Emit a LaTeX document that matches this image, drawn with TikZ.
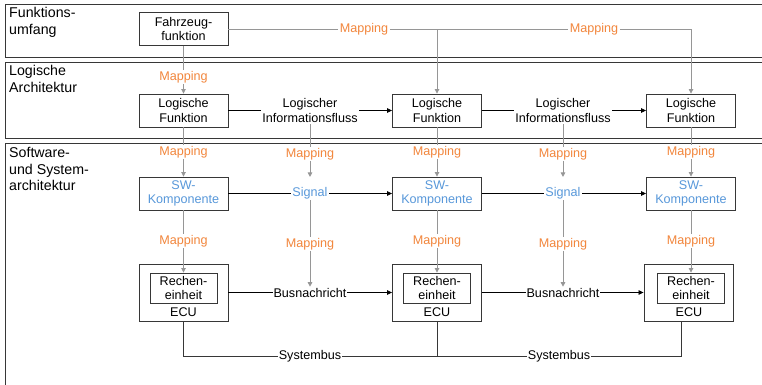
\documentclass[tikz,border=0pt]{standalone}
\usepackage{fontspec}
\setmainfont{Liberation Sans}
\usetikzlibrary{arrows.meta}
\definecolor{mapor}{RGB}{242,134,60}
\definecolor{swblue}{RGB}{88,152,218}
\definecolor{mapgray}{RGB}{150,150,150}
\definecolor{frame}{RGB}{55,55,55}
\begin{document}
\begin{tikzpicture}[x=1pt,y=-1pt,
  font=\fontsize{12.6}{14.6}\selectfont,
  box/.style={draw=frame, line width=0.9pt, minimum width=89pt, minimum height=33pt, align=center, inner sep=0pt, fill=white},
  ecubox/.style={draw=frame, line width=0.9pt, minimum width=89pt, minimum height=57pt, fill=white},
  inbox/.style={draw=frame, line width=0.9pt, minimum width=67pt, minimum height=30pt, align=center, inner sep=0pt},
  band/.style={draw=frame, line width=1pt},
  bandlab/.style={anchor=north west, align=left, inner sep=0pt, font=\fontsize{14.2}{16.7}\selectfont},
  maplab/.style={text=mapor, fill=white, inner sep=1.5pt},
  maparrow/.style={draw=mapgray, line width=0.8pt, -{Triangle[length=4.5pt,width=4.5pt]}},
  mapline/.style={draw=mapgray, line width=0.8pt},
  flow/.style={draw=black, line width=0.8pt, -{Triangle[length=5pt,width=4.5pt]}},
  flowlab/.style={fill=white, inner sep=1.5pt, align=center},
  busline/.style={draw=frame, line width=1pt},
]
\clip (0,0) rectangle (762,384);
\fill[white] (0,0) rectangle (762,384);
% bands
\draw[band] (5,4) rectangle (780,57);
\draw[band] (5,62) rectangle (780,138);
\draw[band] (5,143) rectangle (780,420);
\node[bandlab] (l1) at (9,7) {Funktions-\\umfang};
\node[bandlab] (l2) at (9,65) {Logische\\Architektur};
\node[bandlab] (l3) at (9,147) {Software-\\und System-\\architektur};

% boxes
\node[box] (fz) at (183.5,29) {Fahrzeug-\\funktion};
\node[box] (lf1) at (183.5,110.5) {Logische\\Funktion};
\node[box] (lf2) at (437,110.5) {Logische\\Funktion};
\node[box] (lf3) at (691,110.5) {Logische\\Funktion};
\node[box, text=swblue] (sw1) at (183.5,193.5) {SW-\\Komponente};
\node[box, text=swblue] (sw2) at (437,193.5) {SW-\\Komponente};
\node[box, text=swblue] (sw3) at (691,193.5) {SW-\\Komponente};
\node[ecubox] (ecu1) at (183.5,292.5) {};
\node[ecubox] (ecu2) at (437,292.5) {};
\node[ecubox] (ecu3) at (688.5,292.5) {};
\node[inbox] (re1) at (183.5,288) {Rechen-\\einheit};
\node[inbox] (re2) at (437,288) {Rechen-\\einheit};
\node[inbox] (re3) at (691,288) {Rechen-\\einheit};
\node[inner sep=0pt] (e1) at (183.5,312) {ECU};
\node[inner sep=0pt] (e2) at (437,312) {ECU};
\node[inner sep=0pt] (e3) at (689,312) {ECU};

% middle labels
\node[flowlab] (if1) at (310,110.5) {Logischer\\Informationsfluss};
\node[flowlab] (if2) at (563,110.5) {Logischer\\Informationsfluss};
\node[flowlab, text=swblue, inner sep=1pt] (sg1) at (310,193) {Signal};
\node[flowlab, text=swblue, inner sep=1pt] (sg2) at (563,193) {Signal};
\node[flowlab, inner sep=1pt] (bn1) at (310,292.5) {Busnachricht};
\node[flowlab, inner sep=1pt] (bn2) at (563,292.5) {Busnachricht};

% top mapping lines
\coordinate (c2) at (lf2.north |- fz.east);
\coordinate (c3) at (lf3.north |- fz.east);
\draw[maparrow] (fz.east) -- (c3) -- (lf3.north);
\draw[maparrow] (c2) -- (lf2.north);
\draw[maparrow] (fz.south) -- (lf1.north);

% LF -> SW mappings
\draw[maparrow] (lf1.south) -- (sw1.north);
\draw[maparrow] (lf2.south) -- (sw2.north);
\draw[maparrow] (lf3.south) -- (sw3.north);
\draw[maparrow, shorten >=9pt] (if1.south) -- (sg1.north);
\draw[maparrow, shorten >=9pt] (if2.south) -- (sg2.north);

% SW -> ECU mappings
\draw[maparrow] (sw1.south) -- (re1.north);
\draw[maparrow] (sw2.south) -- (re2.north);
\draw[maparrow] (sw3.south) -- (re3.north);
\draw[maparrow] (sg1.south) -- (bn1.north);
\draw[maparrow] (sg2.south) -- (bn2.north);

% flows
\draw[flow] (lf1.east) -- (lf2.west);
\draw[flow] (lf2.east) -- (lf3.west);
\draw[flow] (sw1.east) -- (sw2.west);
\draw[flow] (sw2.east) -- (sw3.west);
\draw[flow] (ecu1.east) -- (ecu2.west);
\draw[flow] (ecu2.east) -- (ecu3.west);

% redraw labels on top
\node[flowlab] at (if1) {Logischer\\Informationsfluss};
\node[flowlab] at (if2) {Logischer\\Informationsfluss};
\node[flowlab, text=swblue, inner sep=1pt] at (sg1) {Signal};
\node[flowlab, text=swblue, inner sep=1pt] at (sg2) {Signal};
\node[flowlab, inner sep=1pt] at (bn1) {Busnachricht};
\node[flowlab, inner sep=1pt] at (bn2) {Busnachricht};

% systembus
\coordinate (sbl) at (183.5,356);
\coordinate (sb3) at ([xshift=-7pt]ecu3.south);
\draw[busline] (ecu1.south) -- (ecu1.south |- sbl) -- (sb3 |- sbl) -- (sb3);
\draw[busline] (ecu2.south) -- (ecu2.south |- sbl);
\node[flowlab, inner sep=1pt] (sb1) at (310,356) {Systembus};
\node[flowlab, inner sep=1pt] (sb2) at (559,356) {Systembus};

% mapping labels
\node[maplab] (m0) at (183.5,77) {Mapping};
\node[maplab] (mt1) at (364,29) {Mapping};
\node[maplab] (mt2) at (594,29) {Mapping};
\node[maplab] (ma1) at (183.5,152) {Mapping};
\node[maplab] (ma2) at (310,154) {Mapping};
\node[maplab] (ma3) at (437,152) {Mapping};
\node[maplab] (ma4) at (563,154) {Mapping};
\node[maplab] (ma5) at (691,152) {Mapping};
\node[maplab] (mb1) at (183.5,241) {Mapping};
\node[maplab] (mb2) at (310,244) {Mapping};
\node[maplab] (mb3) at (437,241) {Mapping};
\node[maplab] (mb4) at (563,244) {Mapping};
\node[maplab] (mb5) at (691,241) {Mapping};
\end{tikzpicture}
\end{document}
